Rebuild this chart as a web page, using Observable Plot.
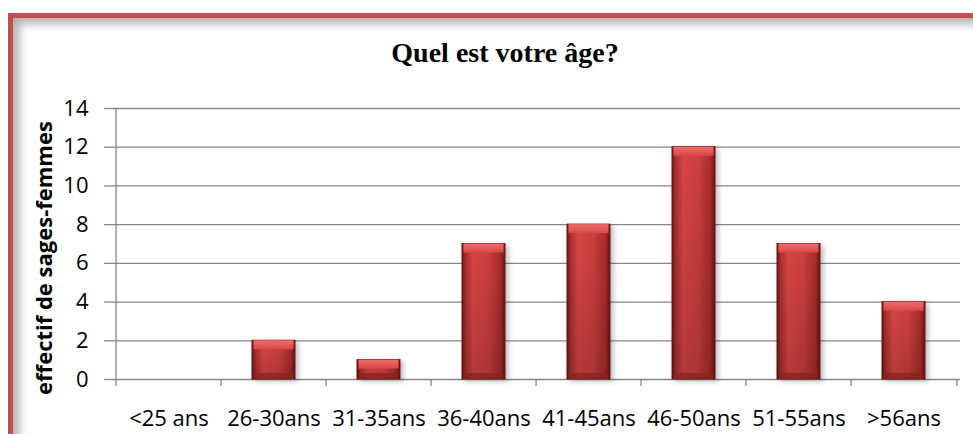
<!DOCTYPE html>
<html>
<head>
<meta charset="utf-8">
<script src="https://cdn.jsdelivr.net/npm/d3@7"></script>
<script src="https://cdn.jsdelivr.net/npm/@observablehq/plot@0.6"></script>
<style>
  html, body { margin: 0; padding: 0; background: #fff; }
  #wrap { position: relative; width: 973px; height: 434px; overflow: hidden; background: #fff; }
  #frame { position: absolute; left: 8px; top: 13px; width: 990px; height: 460px;
           border: 5px solid #c0504d; box-sizing: border-box;
           box-shadow: inset 6px 6px 10px rgba(0,0,0,0.3); }
  #title { position: absolute; left: 0; width: 1010px; top: 36px; text-align: center;
           font-family: "Liberation Serif", "DejaVu Serif", serif; font-weight: bold;
           font-size: 28px; line-height: 34px; color: #000; }
  #chart { position: absolute; left: 0; top: 0; width: 973px; }
</style>
</head>
<body>
<div id="wrap">
  <div id="frame"></div>
  <div id="chart"></div>
  <div id="title">Quel est votre âge?</div>
</div>
<script>
const categories = ["<25 ans", "26-30ans", "31-35ans", "36-40ans", "41-45ans", "46-50ans", "51-55ans", ">56ans"];
const values = [0, 2, 1, 7, 8, 12, 7, 4];
const yTicks = [0, 2, 4, 6, 8, 10, 12, 14];
const yLabel = "effectif de sages-femmes";

const data = categories.map((c, i) => ({cat: c, v: values[i]}));
const shown = data.filter(d => d.v > 0);
const W = 973, H = 434, mL = 113, mR = 13, mT = 108, mB = 55;
const bw = (W - mL - mR) / categories.length;
const font = "'Open Sans', 'Liberation Sans', Arial, sans-serif";
const grid = "#868686";

const plot = Plot.plot({
  width: W, height: H,
  marginLeft: mL, marginRight: mR, marginTop: mT, marginBottom: mB,
  style: {fontFamily: font, fontSize: "22px", color: "#000", background: "transparent"},
  x: {domain: categories, paddingInner: 0.59, paddingOuter: 0.295, label: null},
  y: {domain: [0, 14], ticks: yTicks, label: null},
  marks: [
    Plot.gridY(yTicks, {stroke: grid, strokeOpacity: 1, strokeWidth: 1.3}),
    Plot.axisY(yTicks, {tickSize: 9, tickPadding: 16, stroke: grid, strokeWidth: 1.3, fontSize: 22}),
    Plot.ruleX([categories[0]], {dx: -bw / 2, stroke: grid, strokeWidth: 1.3}),
    Plot.axisX({text: null, tickSize: 7, dx: -bw / 2, stroke: grid, strokeWidth: 1.3}),
    Plot.axisX([categories[categories.length - 1]], {text: null, tickSize: 7, dx: bw / 2, stroke: grid, strokeWidth: 1.3}),
    Plot.axisX({tickSize: 0, tickPadding: 31, fontSize: 22}),
    Plot.barY(shown, {x: "cat", y: "v", fill: "url(#barH)", stroke: "#6a1414", strokeWidth: 1}),
    Plot.barY(shown, {x: "cat", y: "v", fill: "url(#barV)"}),
    Plot.barY(shown, {x: "cat", y1: "v", y2: "v", insetBottom: -9, insetLeft: 1.5, insetRight: 1.5, fill: "url(#barTop)"}),
    Plot.barY(shown, {x: "cat", y1: 0, y2: 0, insetTop: -6, insetLeft: 1.5, insetRight: 1.5, fill: "#8a2222", fillOpacity: 0.75}),
    Plot.text([yLabel], {frameAnchor: "left", textAnchor: "middle", dx: -69, dy: 14, rotate: -90, fontWeight: "bold", fontSize: 22, fill: "#000"})
  ]
});

const svg = d3.select(plot);
const defs = svg.insert("defs", ":first-child");
const gH = defs.append("linearGradient").attr("id", "barH").attr("x1", 0).attr("x2", 1).attr("y1", 0).attr("y2", 0);
[[0, "#6e1616"], [0.07, "#a82c2c"], [0.25, "#d84545"], [0.6, "#cf4040"], [0.9, "#a92b2b"], [1, "#6a1515"]]
  .forEach(([o, c]) => gH.append("stop").attr("offset", o).attr("stop-color", c));
const gV = defs.append("linearGradient").attr("id", "barV").attr("x1", 0).attr("x2", 0).attr("y1", 0).attr("y2", 1);
[[0, "#000", 0], [1, "#000", 0.18]]
  .forEach(([o, c, a]) => gV.append("stop").attr("offset", o).attr("stop-color", c).attr("stop-opacity", a));
const gT = defs.append("linearGradient").attr("id", "barTop").attr("x1", 0).attr("x2", 0).attr("y1", 0).attr("y2", 1);
[[0, "#f26c6c"], [1, "#d84848"]]
  .forEach(([o, c]) => gT.append("stop").attr("offset", o).attr("stop-color", c));
const f = defs.append("filter").attr("id", "shadow").attr("x", "-20%").attr("y", "-10%").attr("width", "150%").attr("height", "130%");
f.append("feDropShadow").attr("dx", 3).attr("dy", 2).attr("stdDeviation", 2.5).attr("flood-color", "#000").attr("flood-opacity", 0.25);
svg.selectAll("g[aria-label='bar']").filter((d, i) => i === 0).attr("filter", "url(#shadow)");

document.getElementById("chart").appendChild(plot);
</script>
</body>
</html>
